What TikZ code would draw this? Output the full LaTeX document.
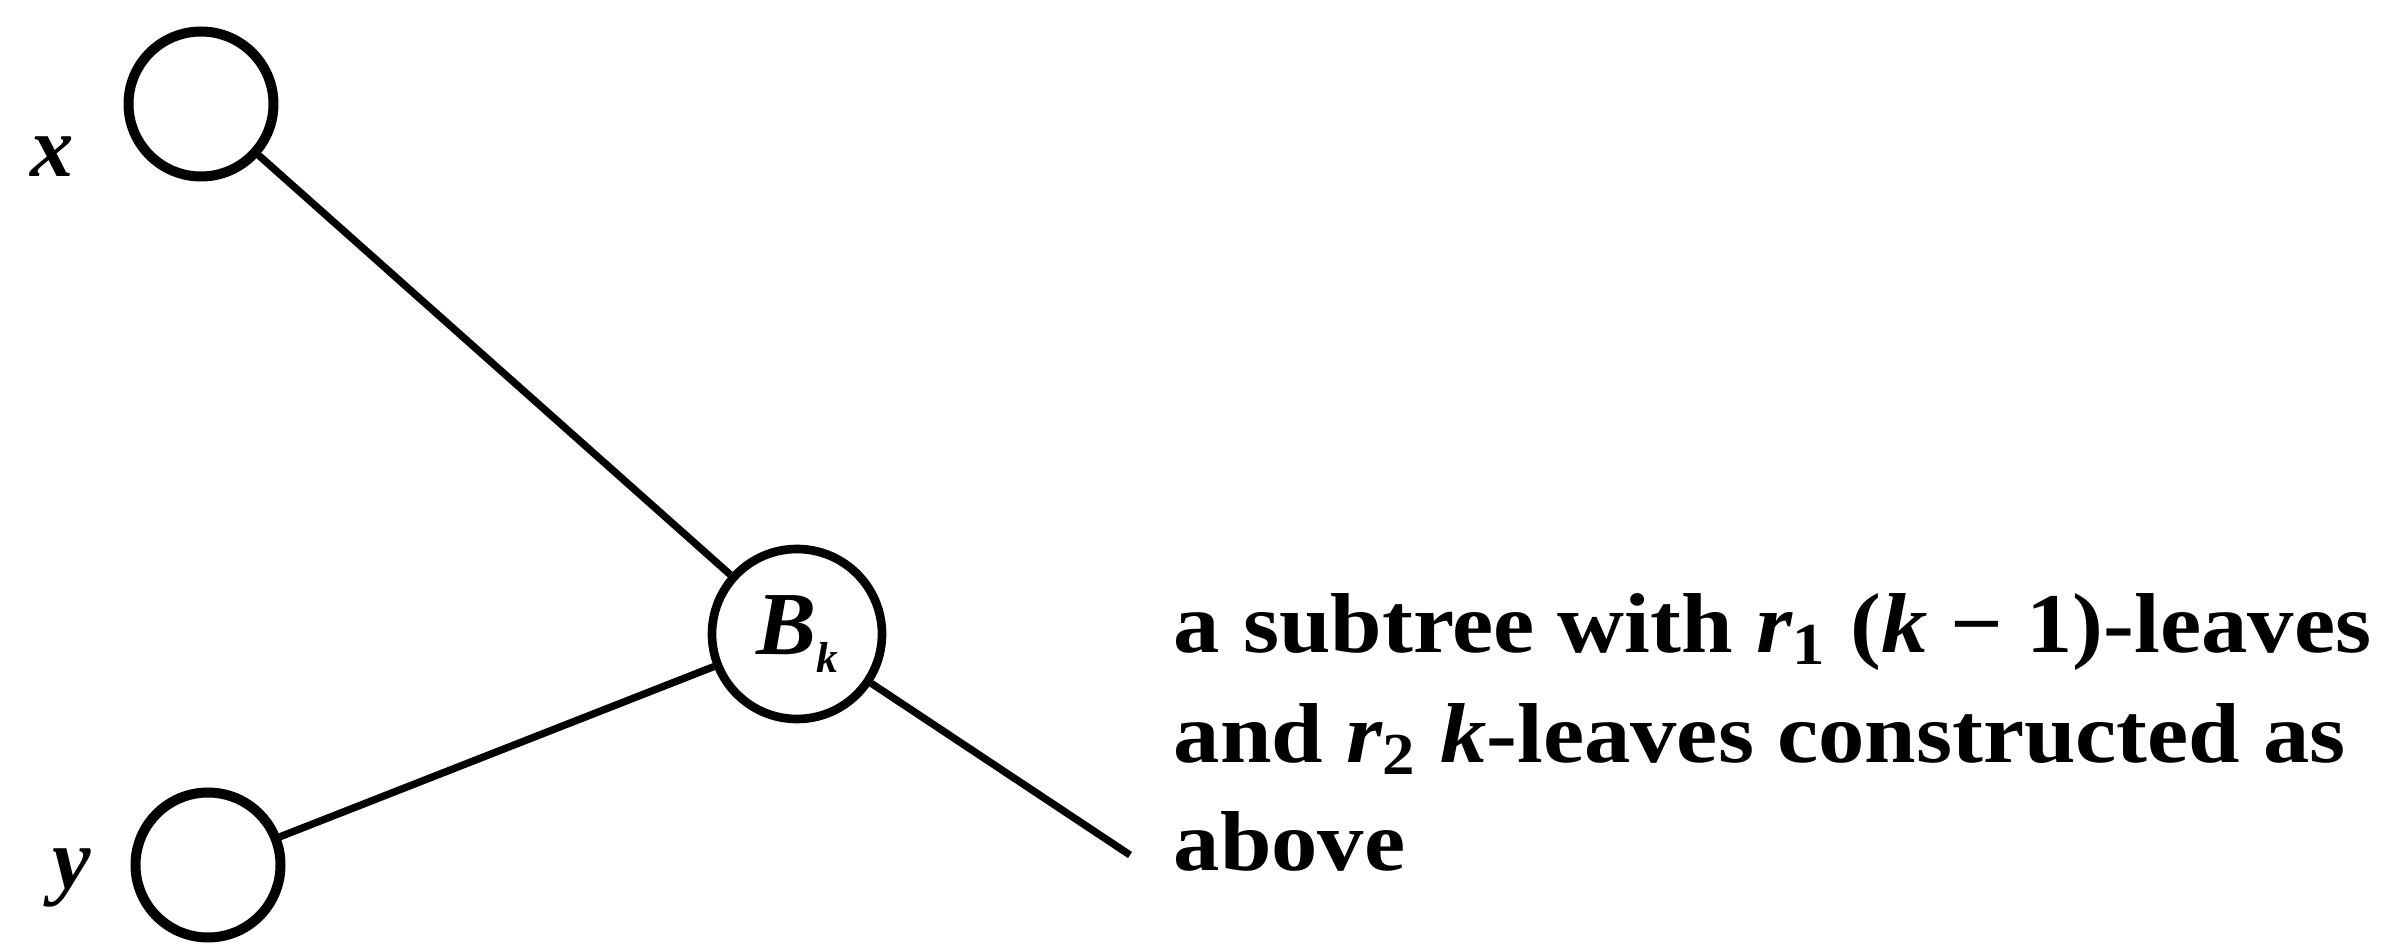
\documentclass[tikz,border=0pt]{standalone}
\usepackage{fontspec}
\setmainfont{Liberation Serif}
\newfontfamily\widefont[FakeStretch=1.09]{Liberation Serif}
\newcommand{\lowsub}[1]{\raisebox{-5.4pt}{\fontsize{13}{13}\selectfont #1}}
\begin{document}
\begin{tikzpicture}[x=0.3pt,y=-0.3pt,
  leaf/.style={circle,draw,line width=3pt,minimum size=43.5pt,inner sep=0pt},
  root/.style={circle,draw,line width=2.6pt,minimum size=51pt,inner sep=0pt,font=\fontsize{27}{30}\selectfont\bfseries\itshape},
  edge/.style={line width=2.2pt},
  lab/.style={font=\fontsize{26}{30}\selectfont\bfseries\itshape, inner sep=0pt, anchor=base},
  txt/.style={font=\widefont\fontsize{25.5}{33}\selectfont\bfseries, inner sep=0pt, anchor=base west}]
\useasboundingbox (0,0) rectangle (2391,947);
\node[leaf] (x) at (201,104) {};
\node[leaf] (y) at (208,865) {};
\node[root] (b) at (797,634) {B\lowsub{k}};
\coordinate (e) at (1130,855);
\draw[edge] (x) -- (b);
\draw[edge] (y) -- (b);
\draw[edge] (b) -- (e);
\node[lab] (lx) at (52,177) {x};
\node[lab] (ly) at (72,888) {y};
\node[txt] (t1) at (1173,652) {a subtree with \textit{r}\textsubscript{1} (\textit{k} − 1)-leaves};
\node[txt] (t2) at (1173,762) {and \textit{r}\textsubscript{2} \textit{k}-leaves constructed as};
\node[txt] (t3) at (1173,870) {above};
\end{tikzpicture}
\end{document}
